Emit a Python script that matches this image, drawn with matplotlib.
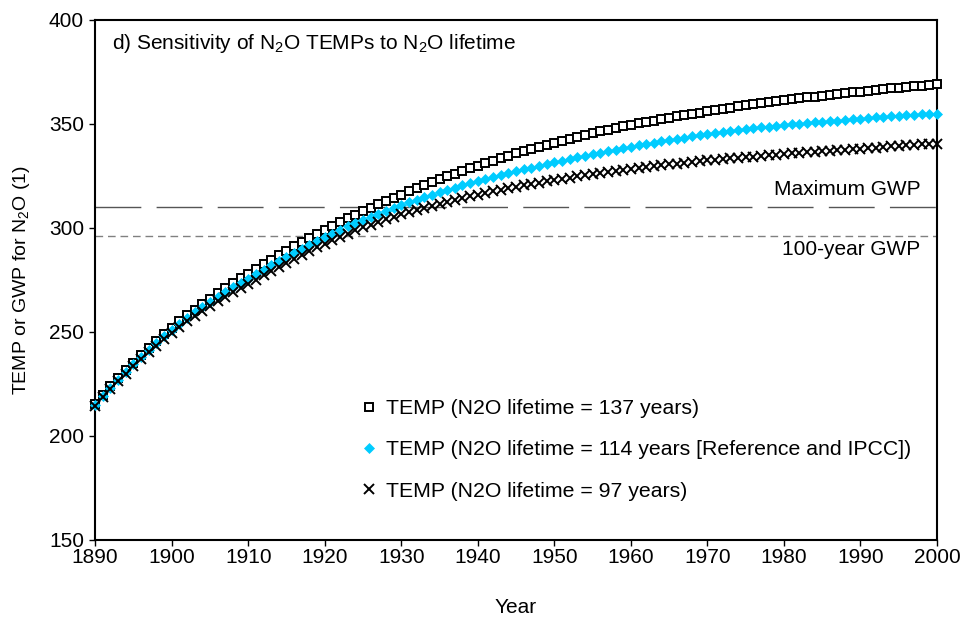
import matplotlib

matplotlib.use("Agg")

import matplotlib.pyplot as plt
import numpy as np

plt.rcParams["font.family"] = ["Liberation Sans", "DejaVu Sans"]
plt.rcParams["mathtext.fontset"] = "custom"
plt.rcParams["mathtext.rm"] = "Liberation Sans"
plt.rcParams["mathtext.default"] = "regular"

years = np.arange(1890, 2001)

# TEMP, N2O lifetime = 137 years
temp_137 = [
    215.5, 219.7, 223.8, 227.7, 231.5, 235.2, 238.8, 242.3, 245.7, 248.9,
    252.0, 255.0, 257.9, 260.7, 263.4, 266.0, 268.6, 271.1, 273.5, 275.8,
    278.0, 280.3, 282.6, 284.8, 287.0, 289.1, 291.2, 293.2, 295.2, 297.1,
    299.0, 300.9, 302.8, 304.6, 306.4, 308.1, 309.8, 311.4, 313.0, 314.5,
    316.0, 317.6, 319.1, 320.6, 322.0, 323.4, 324.8, 326.1, 327.4, 328.7,
    330.0, 331.2, 332.4, 333.6, 334.7, 335.8, 336.9, 338.0, 339.0, 340.0,
    341.0, 342.0, 342.9, 343.8, 344.7, 345.6, 346.4, 347.2, 348.0, 348.8,
    349.5, 350.2, 350.9, 351.6, 352.3, 353.0, 353.6, 354.2, 354.8, 355.4,
    356.0, 356.6, 357.2, 357.8, 358.4, 359.0, 359.5, 360.0, 360.5, 361.0,
    361.5, 361.9, 362.3, 362.7, 363.1, 363.5, 363.9, 364.3, 364.7, 365.1,
    365.5, 365.9, 366.3, 366.7, 367.1, 367.5, 367.8, 368.1, 368.4, 368.7,
    369.0,
]

# TEMP, N2O lifetime = 114 years (reference / IPCC)
temp_114 = [
    215.0, 219.2, 223.2, 227.1, 230.8, 234.4, 237.9, 241.3, 244.6, 247.8,
    251.0, 253.9, 256.7, 259.4, 262.0, 264.5, 266.9, 269.2, 271.4, 273.5,
    275.5, 277.7, 279.9, 282.0, 284.1, 286.1, 288.1, 290.0, 291.9, 293.7,
    295.5, 297.3, 299.0, 300.7, 302.3, 303.9, 305.4, 306.9, 308.3, 309.7,
    311.0, 312.3, 313.6, 314.8, 316.0, 317.2, 318.3, 319.4, 320.5, 321.5,
    322.5, 323.5, 324.5, 325.4, 326.3, 327.2, 328.1, 329.0, 329.9, 330.7,
    331.5, 332.3, 333.1, 333.9, 334.7, 335.5, 336.2, 336.9, 337.6, 338.3,
    339.0, 339.7, 340.4, 341.0, 341.6, 342.2, 342.8, 343.4, 344.0, 344.5,
    345.0, 345.5, 346.0, 346.5, 347.0, 347.5, 347.9, 348.3, 348.7, 349.1,
    349.5, 349.8, 350.1, 350.4, 350.7, 351.0, 351.3, 351.6, 351.9, 352.2,
    352.5, 352.8, 353.1, 353.4, 353.7, 354.0, 354.2, 354.4, 354.6, 354.8,
    355.0,
]

# TEMP, N2O lifetime = 97 years
temp_97 = [
    214.5, 218.6, 222.5, 226.3, 229.9, 233.4, 236.8, 240.1, 243.3, 246.4,
    249.5, 252.3, 255.0, 257.6, 260.1, 262.5, 264.8, 267.0, 269.1, 271.1,
    273.0, 275.1, 277.2, 279.2, 281.2, 283.2, 285.1, 287.0, 288.9, 290.7,
    292.5, 294.2, 295.8, 297.3, 298.8, 300.2, 301.6, 302.9, 304.2, 305.4,
    306.5, 307.6, 308.7, 309.7, 310.7, 311.7, 312.6, 313.5, 314.4, 315.2,
    316.0, 316.8, 317.6, 318.3, 319.0, 319.7, 320.4, 321.1, 321.8, 322.4,
    323.0, 323.6, 324.2, 324.8, 325.4, 326.0, 326.5, 327.0, 327.5, 328.0,
    328.5, 328.9, 329.3, 329.7, 330.1, 330.5, 330.9, 331.3, 331.7, 332.1,
    332.5, 332.8, 333.1, 333.4, 333.7, 334.0, 334.3, 334.6, 334.9, 335.2,
    335.5, 335.8, 336.1, 336.4, 336.7, 337.0, 337.2, 337.4, 337.6, 337.8,
    338.0, 338.3, 338.6, 338.9, 339.2, 339.5, 339.7, 339.9, 340.1, 340.3,
    340.5,
]

gwp_max = 310
gwp_100 = 296

labels = [
    "TEMP (N2O lifetime = 137 years)",
    "TEMP (N2O lifetime = 114 years [Reference and IPCC])",
    "TEMP (N2O lifetime = 97 years)",
]

FS = 15

fig = plt.figure(figsize=(9.61, 6.22), dpi=100)
ax = fig.add_axes([0.099, 0.132, 0.876, 0.836])

ax.axhline(gwp_max, color="#555555", lw=1.0, ls=(0, (33, 11)), zorder=1)
ax.axhline(gwp_100, color="#808080", lw=1.0, ls=(0, (5.5, 3.5)), zorder=1)

ax.plot(years, temp_137, ls="none", marker="s", ms=5.5, mfc="white",
        mec="black", mew=1.4, label=labels[0], clip_on=False, zorder=3)
ax.plot(years, temp_114, ls="none", marker="D", ms=5.5, mfc="#00CCFF",
        mec="#00CCFF", mew=0.5, label=labels[1], clip_on=False, zorder=4)
ax.plot(years, temp_97, ls="none", marker="x", ms=6.5, mec="black",
        mew=1.4, label=labels[2], clip_on=False, zorder=5)

ax.set_xlim(1890, 2000)
ax.set_ylim(150, 400)
ax.set_xticks(np.arange(1890, 2001, 10))
ax.set_yticks(np.arange(150, 401, 50))
ax.tick_params(direction="out", length=4, width=1, labelsize=FS)
ax.tick_params(axis="x", pad=2)
ax.tick_params(axis="y", pad=4)
for sp in ax.spines.values():
    sp.set_linewidth(1.5)

ax.set_xlabel("Year", fontsize=FS)
ax.xaxis.set_label_coords(0.5, -0.112)
ax.set_ylabel("TEMP or GWP for N$_2$O (1)", fontsize=14)
ax.yaxis.set_label_coords(-0.075, 0.5)

ax.text(0.02, 0.955, "d) Sensitivity of N$_2$O TEMPs to N$_2$O lifetime",
        transform=ax.transAxes, fontsize=FS, va="center", ha="left")
ax.text(1997.8, 318.3, "Maximum GWP", fontsize=FS, ha="right", va="center")
ax.text(1997.8, 289.4, "100-year GWP", fontsize=FS, ha="right", va="center")

ax.legend(loc="upper left", bbox_to_anchor=(0.305, 0.287), frameon=False,
          fontsize=15.3, numpoints=1, handlelength=0.8, handletextpad=0.4,
          labelspacing=1.05, borderaxespad=0)

fig.savefig("out.png", dpi=100)
